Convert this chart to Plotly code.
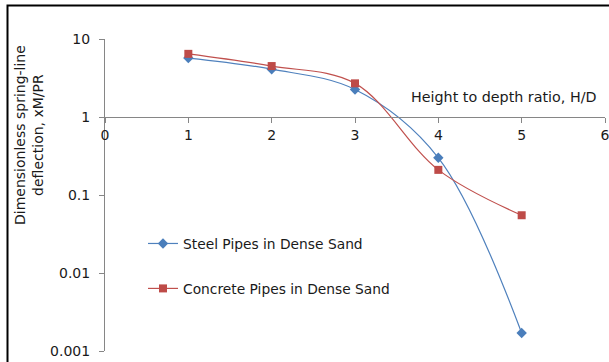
import plotly.graph_objects as go

# Height-to-depth ratio and dimensionless spring-line deflection
hd_ratio = [1, 2, 3, 4, 5]
steel_dense = [5.7, 4.1, 2.25, 0.30, 0.0017]
concrete_dense = [6.45, 4.5, 2.7, 0.21, 0.055]

x_ticks = [0, 1, 2, 3, 4, 5, 6]
y_ticks = [0.001, 0.01, 0.1, 1, 10]
y_tick_text = ["0.001", "0.01", "0.1", "1", "10"]

W, H = 609, 362
ML, MR, MT, MB = 105, 4, 39, 11
pw, ph = W - ML - MR, H - MT - MB

def px_x(p):
    return (p - ML) / pw

def px_y(p):
    return 1 - (p - MT) / ph

font_family = "DejaVu Sans"
axis_col = "#868686"
text_col = "#1a1a1a"

fig = go.Figure()
fig.add_trace(go.Scatter(
    x=hd_ratio, y=steel_dense, name="Steel Pipes in Dense Sand",
    mode="lines+markers", line=dict(color="#4F81BD", width=1.2, shape="spline", smoothing=1.0),
    marker=dict(symbol="diamond", size=8, color="#4A7EBB"),
    legendgroup="a",
))
fig.add_trace(go.Scatter(
    x=hd_ratio, y=concrete_dense, name="Concrete Pipes in Dense Sand",
    mode="lines+markers", line=dict(color="#C0504D", width=1.2, shape="spline", smoothing=1.0),
    marker=dict(symbol="square", size=8, color="#BE4B48"),
    legendgroup="b",
))

fig.update_layout(
    width=W, height=H,
    margin=dict(l=ML, r=MR, t=MT, b=MB, pad=0, autoexpand=False),
    paper_bgcolor="white", plot_bgcolor="white",
    font=dict(family=font_family, size=13, color=text_col),
    showlegend=True,
    legend=dict(
        x=px_x(143), y=px_y(228), xanchor="left", yanchor="top",
        bgcolor="rgba(0,0,0,0)", traceorder="grouped", tracegroupgap=24,
        font=dict(family=font_family, size=13.8, color=text_col),
        itemwidth=30,
    ),
    xaxis=dict(
        range=[0, 6], tickvals=x_ticks, ticktext=[str(v) for v in x_ticks],
        anchor="free", position=0.75, automargin=False,
        showline=True, linecolor=axis_col, linewidth=1,
        ticks="outside", ticklen=5, tickcolor=axis_col,
        showgrid=False, zeroline=False, ticklabeloverflow="allow",
        tickfont=dict(family=font_family, size=14, color=text_col),
    ),
    yaxis=dict(
        type="log", range=[-3, 1], tickvals=y_ticks, ticktext=y_tick_text,
        automargin=False,
        showline=True, linecolor=axis_col, linewidth=1,
        ticks="outside", ticklen=5, tickcolor=axis_col, ticklabelstandoff=6,
        showgrid=False, zeroline=False,
        tickfont=dict(family=font_family, size=14, color=text_col),
    ),
    annotations=[
        dict(text="Height to depth ratio, H/D", xref="paper", yref="paper",
             x=px_x(599), y=px_y(97), xanchor="right", yanchor="middle",
             showarrow=False, font=dict(family=font_family, size=14.3, color=text_col)),
        dict(text="Dimensionless spring-line<br>deflection, xM/PR", xref="paper", yref="paper",
             x=px_x(29), y=px_y(135), xanchor="center", yanchor="middle", textangle=-90,
             showarrow=False, font=dict(family=font_family, size=14, color=text_col)),
    ],
    shapes=[
        dict(type="rect", xref="paper", yref="paper",
             x0=px_x(7.5), x1=px_x(612), y0=px_y(366), y1=px_y(5.5),
             line=dict(color="black", width=2), fillcolor="rgba(0,0,0,0)", layer="below"),
    ],
)

fig.write_html("out.html")
